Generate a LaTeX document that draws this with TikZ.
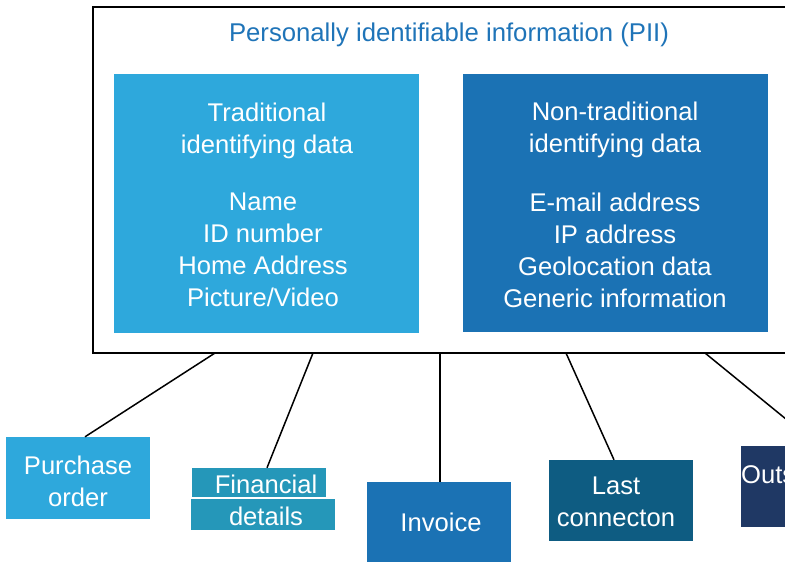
\documentclass[tikz,border=0pt]{standalone}
\usepackage{fontspec}
\setmainfont{Liberation Sans}
\definecolor{lblue}{HTML}{2EA8DC}
\definecolor{mblue}{HTML}{1B72B4}
\definecolor{teal}{HTML}{2597B9}
\definecolor{dteal}{HTML}{0E5C82}
\definecolor{navy}{HTML}{1F3864}
\definecolor{titleblue}{HTML}{1F74B8}
\tikzset{
  fillbox/.style={draw=none, inner sep=0pt},
  boxtext/.style={text=white, align=center, font=\fontsize{25.6}{32}\selectfont, inner sep=0pt},
  conn/.style={draw=black, line width=1.5pt}
}
\begin{document}
\begin{tikzpicture}[x=1pt,y=-1pt]
\useasboundingbox (0,0) rectangle (785,563);
\clip (0,0) rectangle (785,563);
% outer box
\draw[line width=2pt] (93,7) rectangle (820,353);
\node (pii) [text=titleblue, font=\fontsize{25.7}{30}\selectfont, inner sep=0pt] at (449,35) {Personally identifiable information (PII)};
% inner boxes
\fill[lblue] (114,74) rectangle (419,333);
\fill[mblue] (463,74) rectangle (768,332);
\node (th) [boxtext] at (267,131) {Traditional\\identifying data};
\node (tb) [boxtext] at (263,250) {Name\\ID number\\Home Address\\Picture/Video};
\node (nh) [boxtext] at (615,130) {Non-traditional\\identifying data};
\node (nb) [boxtext] at (615,250) {E-mail address\\IP address\\Geolocation data\\Generic information};
% bottom boxes
\node (po) [fill=lblue, minimum width=144pt, minimum height=82pt, inner sep=0pt] at (78,478) {};
\node [boxtext] at (78,481) {Purchase\\order};
\node (fin1) [fill=teal, minimum width=134pt, minimum height=29pt, inner sep=0pt] at (259,482.5) {};
\node (fin2) [fill=teal, minimum width=144pt, minimum height=31pt, inner sep=0pt] at (263,514.5) {};
\node [boxtext] at (266,484) {Financial};
\node [boxtext] at (266,516) {details};
\node (inv) [fill=mblue, minimum width=144pt, minimum height=80pt, inner sep=0pt] at (439,522) {};
\node [boxtext] at (441,522) {Invoice};
\node (last) [fill=dteal, minimum width=144pt, minimum height=81pt, inner sep=0pt] at (621,500.5) {};
\node [boxtext] at (616,502) {Last\\connecton};
\node (outs) [fill=navy, minimum width=144pt, minimum height=81pt, inner sep=0pt] at (813,486.5) {};
\node [boxtext, anchor=west] at (741,475) {Outs};
% connectors
\coordinate (c1) at (215,353);
\coordinate (c2) at (313,353);
\coordinate (c3) at (440,353);
\coordinate (c4) at (566,353);
\coordinate (c5) at (705,353);
\coordinate (e5) at (819,446);
\draw[conn] (c1) -- ([xshift=7pt]po.north);
\draw[conn] (c2) -- ([xshift=8pt]fin1.north);
\draw[conn] (c3) -- ([xshift=1pt]inv.north);
\draw[conn] (c4) -- ([xshift=-7pt]last.north);
\draw[conn] (c5) -- (e5);
\end{tikzpicture}
\end{document}
